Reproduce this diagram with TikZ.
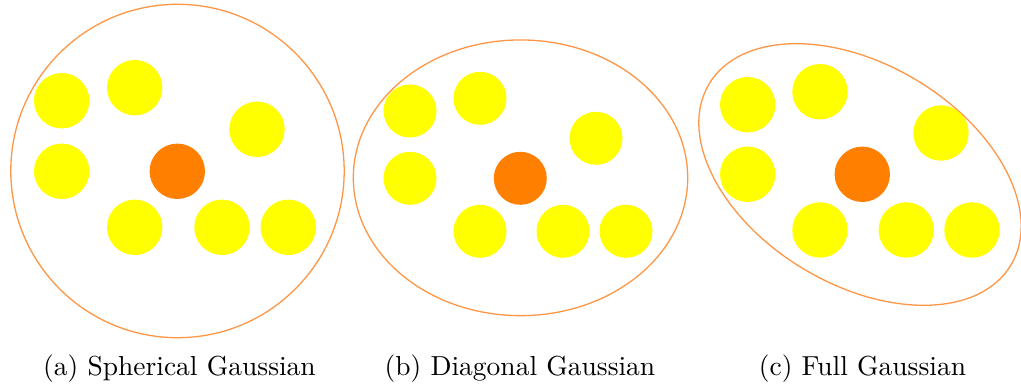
\documentclass[tikz,border=0pt]{standalone}
\usetikzlibrary{shapes.geometric}
\definecolor{ptyellow}{RGB}{255,255,0}
\definecolor{ptorange}{RGB}{255,128,0}
\definecolor{rimorange}{RGB}{255,150,70}
\tikzset{
  yellowpt/.style={circle, fill=ptyellow, draw=none, inner sep=0pt},
  orangept/.style={circle, fill=ptorange, draw=none, inner sep=0pt},
  rim/.style={draw=rimorange, line width=1.3pt, inner sep=0pt, fill=none},
  caption/.style={anchor=base, inner sep=0pt, scale=2.75}
}
\begin{document}
\begin{tikzpicture}[x=1pt,y=1pt]
\useasboundingbox (0,0) rectangle (1021,-385);
% ---- (a) spherical
\node[rim, circle, minimum size=333.4pt] (bigA) at (177.5,-171) {};
\begin{scope}[every node/.append style={minimum size=55.4pt}]
\node[orangept] (oA) at (177.3,-171.3) {};
\node[yellowpt] (a1) at (61.7,-100.7) {};
\node[yellowpt] (a2) at (134.7,-87.7) {};
\node[yellowpt] (a3) at (257,-129.3) {};
\node[yellowpt] (a4) at (61.7,-171.3) {};
\node[yellowpt] (a5) at (134.7,-227.3) {};
\node[yellowpt] (a6) at (222,-227.3) {};
\node[yellowpt] (a7) at (288.3,-227.3) {};
\end{scope}
% ---- (b) diagonal
\node[rim, ellipse, minimum width=334.4pt, minimum height=275.7pt] (bigB) at (520.5,-177.8) {};
\begin{scope}[every node/.append style={minimum size=53pt}]
\node[orangept] (oB) at (520.3,-178.3) {};
\node[yellowpt] (b1) at (410,-111) {};
\node[yellowpt] (b2) at (480,-98.3) {};
\node[yellowpt] (b3) at (596,-138.3) {};
\node[yellowpt] (b4) at (410,-178.3) {};
\node[yellowpt] (b5) at (480,-231.3) {};
\node[yellowpt] (b6) at (563,-231.3) {};
\node[yellowpt] (b7) at (626,-231.3) {};
\end{scope}
% ---- (c) full
\node[rim, ellipse, minimum width=352pt, minimum height=220pt, rotate=-31] (bigC) at (860,-174.5) {};
\begin{scope}[every node/.append style={minimum size=55.4pt}]
\node[orangept] (oC) at (862.3,-174.3) {};
\node[yellowpt] (c1) at (747.7,-104.7) {};
\node[yellowpt] (c2) at (820,-91.7) {};
\node[yellowpt] (c3) at (941,-133) {};
\node[yellowpt] (c4) at (747.7,-174.3) {};
\node[yellowpt] (c5) at (820,-230) {};
\node[yellowpt] (c6) at (906.3,-230) {};
\node[yellowpt] (c7) at (972,-230) {};
\end{scope}
% ---- captions
\node[caption] (capA) at (179.5,-375) {(a) Spherical Gaussian};
\node[caption] (capB) at (520,-375) {(b) Diagonal Gaussian};
\node[caption] (capC) at (862.5,-375) {(c) Full Gaussian};
\end{tikzpicture}
\end{document}
